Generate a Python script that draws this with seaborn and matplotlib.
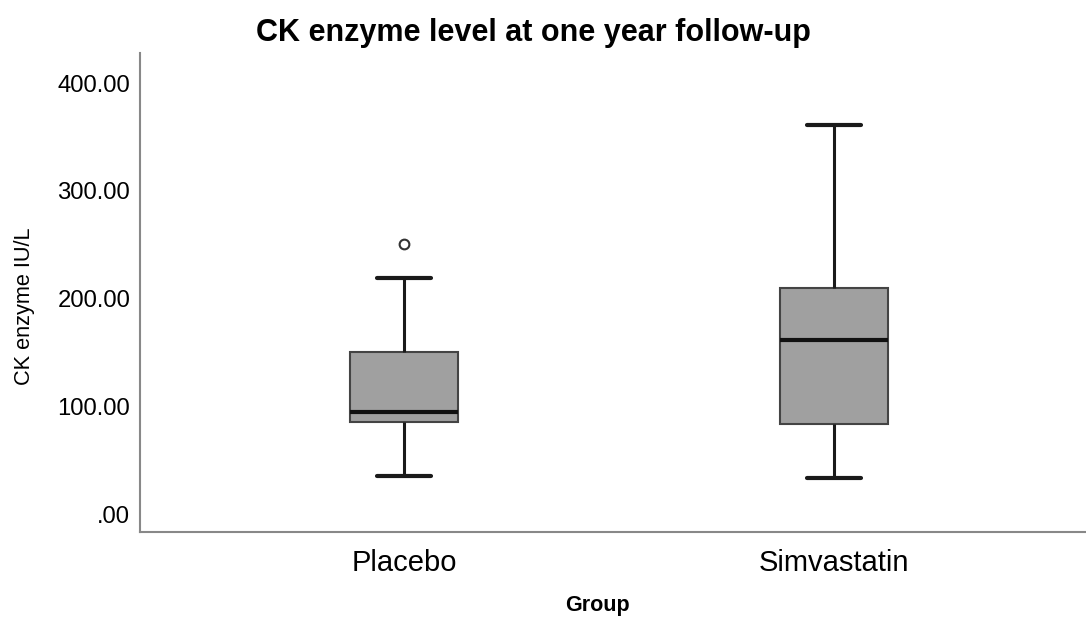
import numpy as np
import pandas as pd
import matplotlib
matplotlib.use("Agg")
import matplotlib.pyplot as plt
import seaborn as sns

# Data (estimated from the reference boxplot)
groups = ["Placebo", "Simvastatin"]
placebo_ck = [35, 60, 85, 90, 95, 120, 150, 219, 251]
simvastatin_ck = [33, 60, 83.5, 120, 162, 190, 210, 300, 361]
y_ticks = [0, 100, 200, 300, 400]
y_tick_labels = [".00", "100.00", "200.00", "300.00", "400.00"]

df = pd.DataFrame({
    "Group": [groups[0]] * len(placebo_ck) + [groups[1]] * len(simvastatin_ck),
    "CK": placebo_ck + simvastatin_ck,
})

sns.set_style("white")
plt.rcParams["font.family"] = ["Liberation Sans", "DejaVu Sans"]
plt.rcParams["text.color"] = "black"
plt.rcParams["axes.labelcolor"] = "black"

fig = plt.figure(figsize=(10.86, 6.22), dpi=100)
ax = fig.add_axes([140 / 1086, (622 - 532) / 622, 1 - 140 / 1086, (532 - 53) / 622])

sns.boxplot(
    data=df, x="Group", y="CK", order=groups, ax=ax,
    color="#a0a0a0", saturation=1, width=0.251, whis=1.5,
    linecolor="#1a1a1a", linewidth=1.8,
    medianprops=dict(color="#111111", linewidth=3),
    whiskerprops=dict(color="#1a1a1a", linewidth=2.2),
    capprops=dict(color="#1a1a1a", linewidth=3),
    boxprops=dict(edgecolor="#444444", linewidth=1.5),
    flierprops=dict(marker="o", markerfacecolor="white", markeredgecolor="#333333",
                    markersize=7, markeredgewidth=1.5),
)

ax.set_xlim(-0.614, 1.586)
ax.set_ylim(-16.7, 428)
ax.set_yticks(y_ticks)
ax.set_yticklabels(y_tick_labels)
ax.tick_params(axis="y", labelsize=17.2, length=0, pad=7, colors="black")
ax.tick_params(axis="x", labelsize=21, length=0, pad=12, colors="black")

for s in ["top", "right"]:
    ax.spines[s].set_visible(False)
for s in ["left", "bottom"]:
    ax.spines[s].set_color("#888888")
    ax.spines[s].set_linewidth(1.5)

ax.set_ylabel("CK enzyme IU/L", fontsize=15.7)
ax.yaxis.set_label_coords(-(140 - 25) / 946, (532 - 306) / 479)
ax.set_xlabel("Group", fontsize=15.5, fontweight="bold")
ax.xaxis.set_label_coords((597 - 140) / 946, -(605 - 532) / 479)
ax.xaxis.label.set_va("center")
ax.yaxis.label.set_va("center")

fig.text(533 / 1086, 1 - 33 / 622, "CK enzyme level at one year follow-up",
         ha="center", va="center", fontsize=22, fontweight="bold", color="black")

fig.savefig("out.png", dpi=100)
